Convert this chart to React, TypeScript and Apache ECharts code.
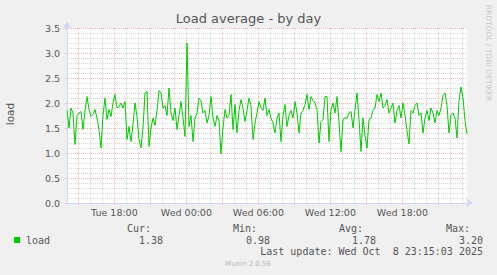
import React, { useEffect, useRef } from "react";
import * as echarts from "echarts";

// ---- data ----
const TITLE = "Load average - by day";
const SERIES_NAME = "load";
const START_HOUR = 14.05; // hours since Tue 00:00 at the left edge
const STEP_HOURS = 1 / 6; // 10-minute samples
const LOAD = [
  1.85, 1.5, 1.9, 1.8, 1.17, 1.75, 1.8, 1.83, 1.47, 1.85,
  2.13, 1.87, 1.73, 1.77, 1.87, 1.7, 1.47, 1.1, 1.75, 2.1,
  1.67, 1.87, 1.73, 2.0, 2.17, 1.9, 1.93, 2.0, 1.9, 2.03,
  1.27, 1.53, 1.23, 1.57, 2.0, 1.73, 1.27, 1.1, 1.5, 2.2,
  2.23, 1.13, 1.5, 1.7, 1.55, 1.85, 2.25, 2.2, 1.9, 1.95,
  1.75, 2.3, 1.8, 1.65, 1.9, 1.47, 1.75, 2.03, 1.7, 1.33,
  3.2, 1.53, 1.75, 1.23, 1.7, 1.8, 2.1, 2.05, 1.8, 1.85,
  1.6, 1.75, 2.13, 1.7, 1.53, 1.75, 1.65, 0.98, 1.5, 1.87,
  1.7, 1.75, 2.17, 1.47, 1.97, 1.4, 1.85, 2.07, 1.9, 1.63,
  1.85, 2.1, 1.95, 1.27, 1.6, 1.8, 2.03, 1.9, 1.85, 2.1,
  1.75, 1.87, 1.7, 1.6, 1.4, 1.7, 1.8, 1.23, 1.75, 1.97,
  1.53, 1.75, 1.85, 1.7, 2.03, 1.8, 1.4, 1.8, 1.85, 1.97,
  2.17, 1.87, 2.13, 2.05, 2.0, 1.87, 1.2, 1.63, 1.67, 2.13,
  2.13, 1.23, 1.87, 2.0, 1.8, 2.13, 1.6, 1.03, 1.67, 1.7,
  1.7, 1.8, 1.83, 1.5, 1.87, 2.2, 1.67, 1.03, 1.7, 1.35,
  1.1, 1.67, 1.7, 1.85, 1.9, 2.17, 2.03, 2.2, 1.9, 1.95,
  2.07, 1.8, 1.9, 2.0, 1.6, 1.85, 1.95, 1.7, 2.0, 1.75,
  1.45, 1.18, 1.85, 1.8, 1.95, 2.0, 1.75, 1.8, 1.4, 1.7,
  1.85, 1.65, 1.9, 1.8, 1.6, 1.85, 1.75, 1.9, 2.15, 2.2,
  1.95, 1.4, 1.75, 1.8, 1.7, 1.3, 2.05, 2.32, 2.1, 1.65,
  1.38,
];
const LABEL_HOURS = [18, 24, 30, 36, 42];
const X_LABELS = ["Tue 18:00", "Wed 00:00", "Wed 06:00", "Wed 12:00", "Wed 18:00"];
const MAJOR_HOURS = [15, 18, 21, 24, 27, 30, 33, 36, 39, 42, 45];
const MINOR_HOURS = [
  16, 17, 19, 20, 22, 23, 25, 26, 28, 29, 31, 32, 34, 35, 37, 38, 40, 41, 43, 44, 46, 47,
];
const STAT_HEADERS = ["Cur:", "Min:", "Avg:", "Max:"];
const STAT_VALUES = ["1.38", "0.98", "1.78", "3.20"];
const LAST_UPDATE = "Last update: Wed Oct  8 23:15:03 2025";
const FOOTER = "Munin 2.0.56";
const WATERMARK = "RRDTOOL / TOBI OETIKER";

export default function App() {
  const ref = useRef<HTMLDivElement>(null);
  useEffect(() => {
    if (!ref.current) return;
    const chart = echarts.init(ref.current, null, { renderer: "svg" });
    const xMin = START_HOUR;
    const xMax = START_HOUR + (LOAD.length - 1) * STEP_HOURS;
    const data = LOAD.map((v, i) => [START_HOUR + i * STEP_HOURS, v]);
    const sans = "DejaVu Sans";
    const mono = "DejaVu Sans Mono";
    const txt = "#555555";
    const axisColor = "#cfd6f8";
    const majorGrid = "#f3b8b8";
    const minorGrid = "#d6d6d6";

    const statX = [151, 257, 363, 470];
    const valX = [163, 270, 376, 483];
    const graphics: any[] = [
      {
        type: "text",
        x: 10,
        y: 114,
        rotation: Math.PI / 2,
        style: { text: SERIES_NAME, fill: txt, fontFamily: sans, fontSize: 10.5, align: "center", verticalAlign: "middle" },
      },
      {
        type: "text",
        x: 488,
        y: 53,
        rotation: -Math.PI / 2,
        style: { text: WATERMARK, fill: "#c8c8c8", fontFamily: sans, fontSize: 7.5, align: "center", verticalAlign: "middle" },
      },
      { type: "rect", shape: { x: 14, y: 237, width: 6, height: 6 }, style: { fill: "#00cc00" } },
      {
        type: "text",
        x: 26,
        y: 240,
        style: { text: SERIES_NAME, fill: txt, fontFamily: mono, fontSize: 10, align: "left", verticalAlign: "middle" },
      },
      {
        type: "text",
        x: 483,
        y: 251,
        style: { text: LAST_UPDATE, fill: txt, fontFamily: mono, fontSize: 10, align: "right", verticalAlign: "middle" },
      },
      {
        type: "text",
        x: 248,
        y: 264,
        style: { text: FOOTER, fill: "#b8b8b8", fontFamily: sans, fontSize: 7, align: "center", verticalAlign: "middle" },
      },
    ];
    STAT_HEADERS.forEach((h, i) => {
      graphics.push({
        type: "text",
        x: statX[i],
        y: 228.5,
        style: { text: h, fill: txt, fontFamily: mono, fontSize: 10, align: "right", verticalAlign: "middle" },
      });
      graphics.push({
        type: "text",
        x: valX[i],
        y: 240,
        style: { text: STAT_VALUES[i], fill: txt, fontFamily: mono, fontSize: 10, align: "right", verticalAlign: "middle" },
      });
    });

    chart.setOption({
      animation: false,
      backgroundColor: "#f0f0f0",
      title: {
        text: TITLE,
        left: "center",
        top: 12,
        padding: 0,
        textStyle: { fontFamily: sans, fontSize: 13, fontWeight: "normal", color: txt },
      },
      grid: { left: 67, right: 30, top: 28, bottom: 72, show: true, backgroundColor: "#ffffff", borderWidth: 0 },
      xAxis: [
        {
          type: "value",
          min: xMin,
          max: xMax,
          position: "bottom",
          axisLine: {
            show: true,
            lineStyle: { color: axisColor, width: 1 },
            symbol: ["none", "arrow"],
            symbolSize: [7, 7],
            symbolOffset: [0, 6],
          },
          axisTick: { show: false, customValues: MINOR_HOURS },
          splitLine: { show: true, lineStyle: { color: minorGrid, type: [1, 1], width: 1 } },
          axisLabel: {
            customValues: LABEL_HOURS,
            margin: 4,
            color: txt,
            fontFamily: sans,
            fontSize: 9.5,
            formatter: (v: number) => {
              const idx = LABEL_HOURS.findIndex((h) => Math.abs(h - v) < 1e-6);
              return idx >= 0 ? X_LABELS[idx] : "";
            },
          },
        },
        {
          type: "value",
          min: xMin,
          max: xMax,
          position: "bottom",
          axisLine: { show: false },
          axisTick: { show: true, customValues: MAJOR_HOURS, length: 2, lineStyle: { color: majorGrid } },
          splitLine: { show: true, lineStyle: { color: majorGrid, type: [1, 1], width: 1 } },
          axisLabel: { show: false },
        },
      ],
      yAxis: {
        type: "value",
        min: 0,
        max: 3.5,
        interval: 0.5,
        axisLine: {
          show: true,
          lineStyle: { color: axisColor, width: 1 },
          symbol: ["none", "arrow"],
          symbolSize: [7, 7],
          symbolOffset: [0, 6],
        },
        axisTick: { show: true, length: 2, lineStyle: { color: majorGrid } },
        minorTick: { show: false, splitNumber: 5 },
        minorSplitLine: { show: true, lineStyle: { color: minorGrid, type: [1, 1], width: 1 } },
        splitLine: { show: true, lineStyle: { color: majorGrid, type: [1, 1], width: 1 } },
        axisLabel: {
          margin: 7,
          color: txt,
          fontFamily: sans,
          fontSize: 9.5,
          formatter: (v: number) => v.toFixed(1),
        },
      },
      series: [
        {
          type: "line",
          name: SERIES_NAME,
          data,
          showSymbol: false,
          symbol: "none",
          lineStyle: { color: "#00cc00", width: 1 },
          itemStyle: { color: "#00cc00" },
          z: 5,
        },
      ],
      graphic: graphics,
    });
    return () => chart.dispose();
  }, []);
  return (
    <div
      ref={ref}
      style={{ position: "absolute", left: 0, top: 0, width: 497, height: 275 }}
    />
  );
}
